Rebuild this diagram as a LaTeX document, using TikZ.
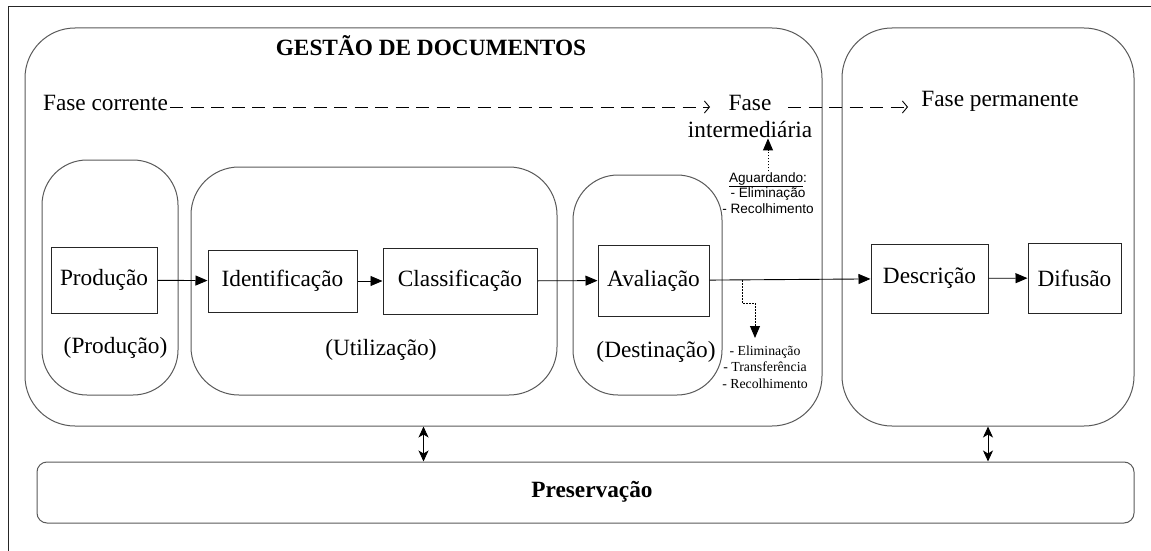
\documentclass[tikz,border=0pt]{standalone}
\usepackage{fontspec}
\setmainfont{Liberation Serif}
\newfontfamily\sansnota{Liberation Sans}
\usetikzlibrary{arrows, arrows.meta}

\tikzset{
  texto/.style={inner sep=1pt, font=\fontsize{23.3}{27}\selectfont},
  grupo/.style={draw=black!65, line width=1pt, inner sep=0pt},
  caixa/.style={draw=black!85, line width=1pt, inner sep=0pt, font=\fontsize{23.3}{27}\selectfont},
  notasans/.style={inner sep=1pt, align=center, font=\sansnota\fontsize{13.6}{15.5}\selectfont},
  notaserif/.style={inner sep=1pt, align=center, font=\fontsize{13.8}{16.5}\selectfont},
  seta/.style={line width=0.9pt, -{Triangle[length=12pt, width=10pt]}},
  tracejado/.style={line width=0.9pt, dash pattern=on 13pt off 7.5pt, -{Straight Barb[length=5pt, width=12pt]}},
  pontilhado/.style={line width=0.9pt, dash pattern=on 1.5pt off 1.5pt, -{Triangle[length=12pt, width=10pt]}},
  dupla/.style={line width=0.9pt, {Stealth[length=11pt, width=10pt, inset=3pt]}-{Stealth[length=11pt, width=10pt, inset=3pt]}}
}

\begin{document}
\begin{tikzpicture}[x=1pt, y=-1pt]
      \useasboundingbox (0,0) rectangle (1151,551);
      \draw[black!85, line width=1pt] (8,551) -- (8,7) -- (1151,7);

      \node[grupo, rounded corners=50pt, minimum width=797pt, minimum height=398pt] (gestao) at (423.5,227) {};
      \node[grupo, rounded corners=50pt, minimum width=292pt, minimum height=398pt] (permanente) at (988,227) {};
      \node[grupo, rounded corners=10pt, minimum width=1097pt, minimum height=61pt] (preservacao) at (585.5,492.5) {};
      \node[grupo, rounded corners=45pt, minimum width=136pt, minimum height=235pt] (gProducao) at (110,277.5) {};
      \node[grupo, rounded corners=48pt, minimum width=366pt, minimum height=228pt] (gUtilizacao) at (374,281) {};
      \node[grupo, rounded corners=45pt, minimum width=149pt, minimum height=220pt] (gDestinacao) at (647.5,285) {};

      \node[caixa, minimum width=106pt, minimum height=66pt] (producao) at (104,280) {Produção};
      \node[caixa, minimum width=149pt, minimum height=62pt] (identificacao) at (282.5,281) {Identificação};
      \node[caixa, minimum width=154pt, minimum height=66pt] (classificacao) at (460,281) {Classificação};
      \node[caixa, minimum width=111pt, minimum height=71pt] (avaliacao) at (653.5,280.5) {Avaliação};
      \node[caixa, minimum width=117pt, minimum height=69pt] (descricao) at (929.5,278.5) {Descrição};
      \node[caixa, minimum width=93pt, minimum height=70pt] (difusao) at (1074.5,278) {Difusão};

      \node[texto, font=\fontsize{23.3}{27}\selectfont\bfseries] (titulo) at (431,46) {GESTÃO DE DOCUMENTOS};
      \node[texto] (faseCorrente) at (105.5,103) {Fase corrente};
      \node[texto, align=center] (faseInter) at (750,116) {Fase\\intermediária};
      \node[texto] (fasePerm) at (1000,101) {Fase permanente};
      \node[texto] (tProducao) at (115.5,348) {(Produção)};
      \node[texto] (tUtilizacao) at (381,350) {(Utilização)};
      \node[texto] (tDestinacao) at (656,352) {(Destinação)};
      \node[texto, font=\fontsize{23.3}{27}\selectfont\bfseries] (tPreservacao) at (592,492) {Preservação};
      \node[notasans] (aguardando) at (768,193) {\underline{Aguardando}:\\- Eliminação\\- Recolhimento};
      \node[notaserif] (destinos) at (765,367) {- Eliminação\\- Transferência\\- Recolhimento};

      \coordinate (iniCorrente) at (170,107);
      \coordinate (pontaInter) at (710,107);
      \coordinate (saidaInter) at (788,107);
      \coordinate (pontaPerm) at (908,107);
      \coordinate (ramo) at (742,280);
      \coordinate (destino) at (755,338);

      \draw[seta] (producao) -- (identificacao);
      \draw[seta] (identificacao) -- (classificacao);
      \draw[seta] (classificacao) -- (avaliacao);
      \draw[seta] (avaliacao) -- (descricao);
      \draw[seta] (descricao) -- (difusao);
      \draw[tracejado] (iniCorrente) -- (pontaInter);
      \draw[tracejado] (saidaInter) -- (pontaPerm);
      \draw[pontilhado] (aguardando.north) -- (aguardando.north |- faseInter.south);
      \draw[pontilhado] (ramo) -- ++(0,23) -| (destino);
      \draw[dupla] (gestao.south) -- (gestao.south |- preservacao.north);
      \draw[dupla] (permanente.south) -- (permanente.south |- preservacao.north);
    \end{tikzpicture}
\end{document}
